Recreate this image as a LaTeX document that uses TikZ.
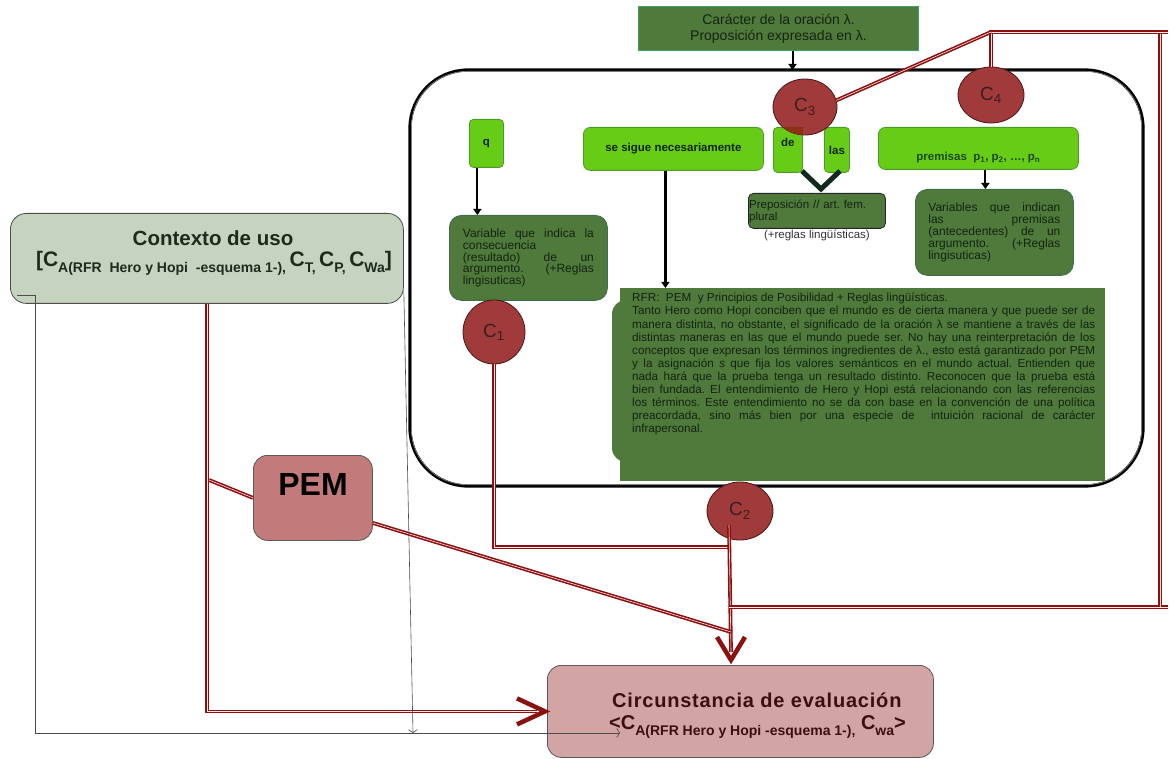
\documentclass[tikz,border=0pt]{standalone}
\usepackage{fontspec}
\setmainfont{Liberation Sans}
\usetikzlibrary{arrows.meta,shapes.geometric,calc}

\definecolor{dkgreen}{HTML}{4F7A3B}
\definecolor{topedge}{HTML}{35A56A}
\definecolor{ltgreen}{HTML}{67CC15}
\definecolor{ltedge}{HTML}{4B9B2A}
\definecolor{dkedge}{HTML}{3F6E50}
\definecolor{txtdark}{HTML}{132410}
\definecolor{premtext}{HTML}{1D4A12}
\definecolor{cred}{HTML}{A13A3A}
\definecolor{credge}{HTML}{4A1515}
\definecolor{ctext}{HTML}{3B1E1E}
\definecolor{linered}{HTML}{8B1111}
\definecolor{sage}{HTML}{C6D3BE}
\definecolor{ctxtext}{HTML}{1C2B1C}
\definecolor{pemfill}{HTML}{C27A7A}
\definecolor{evalfill}{HTML}{D3A4A4}
\definecolor{evaltext}{HTML}{3B0F0F}
\definecolor{chevgreen}{HTML}{0F2A1A}
\definecolor{overlapc}{HTML}{8C3214}

% lowered subscript at a given size
\newcommand{\lowsub}[2]{\raisebox{-0.3em}{\fontsize{#1}{#1}\selectfont #2}}

\begin{document}
\begin{tikzpicture}[x=1pt,y=-1pt,
  topbox/.style={draw=topedge, line width=1pt, fill=dkgreen, inner sep=0pt, align=center,
                 text=txtdark, font=\fontsize{14}{16}\selectfont},
  ltbox/.style={draw=ltedge, line width=0.8pt, fill=ltgreen, rounded corners=4pt, inner sep=0pt,
                text=txtdark, font=\fontsize{11.5}{12}\selectfont\bfseries},
  ltlabel/.style={text=txtdark, font=\fontsize{11.5}{12}\selectfont\bfseries, inner sep=0pt},
  dkbox/.style={draw=dkedge, line width=0.8pt, fill=dkgreen, rounded corners=12pt, inner sep=0pt,
                align=justify, text=txtdark, font=\fontsize{12}{11.8}\selectfont\frenchspacing},
  cnode/.style={ellipse, draw=credge, line width=0.8pt, fill=cred, inner sep=0pt,
                text=ctext, font=\fontsize{19}{19}\selectfont},
  redline/.style={draw=linered, line width=1.6pt, double=red!10, double distance=0.6pt},
  chev/.style={draw=linered, line width=4.5pt, line join=miter},
  vmark/.style={draw=chevgreen, line width=5pt, line join=miter},
  blkarrow/.style={draw=black, line width=2pt, -{Triangle[length=6pt,width=8pt]}},
  thinarrow/.style={draw=black!70, line width=0.6pt, -{Straight Barb[length=3pt,width=9pt]}},
  pinkbox/.style={draw=black!65, line width=0.8pt, rounded corners=14pt, inner sep=0pt}
]
\useasboundingbox (0,0) rectangle (1175,759);

% rounded frame around the sentence analysis
\node[draw=black, line width=3.2pt, rounded corners=58pt, outer sep=0pt, inner sep=0pt,
      minimum width=733pt, minimum height=416pt, anchor=north west] (frame) at (410,70) {};
\draw[black!45, line width=0.6pt, rounded corners=56pt]
  ([shift={(1.3pt,-1.3pt)}]frame.north west) rectangle ([shift={(-1.3pt,1.3pt)}]frame.south east);

% character / proposition box
\node[topbox, minimum width=280pt, minimum height=44pt, anchor=north west] (top) at (638,6)
  {Carácter de la oración λ.\\Proposición expresada en λ.};
\draw[blkarrow] ([xshift=14pt]top.south) -- ([xshift=14pt]top.south |- frame.north);

% sentence parts
\node[ltbox, minimum width=34pt, minimum height=48pt, anchor=north west] (q) at (469,119) {q};
\node[ltbox, rounded corners=7pt, minimum width=180pt, minimum height=43pt, anchor=north west] (sigue) at (583,127)
  {se sigue necesariamente};
\node[ltbox, minimum width=29pt, minimum height=45pt, anchor=north west,
      label={[ltlabel, anchor=north, yshift=-11pt]north:de}] (de) at (773,127) {};
\node[ltbox, minimum width=25pt, minimum height=45pt, anchor=north west] (las) at (824,127) {las};
\node[ltbox, rounded corners=7pt, minimum width=200pt, minimum height=42pt, anchor=north west] (prem) at (878,127) {};
\node[ltlabel, text=premtext] (premlabel) at ([yshift=-9pt]prem.center)
  {premisas\ \ p\textsubscript{1}, p\textsubscript{2}, …, p\textsubscript{n}};

% V mark under "de las"
\draw[vmark] (802,171) -- (821,189) -- (840,171);

% preposition box
\node[draw=black!85, line width=0.8pt, fill=dkgreen, rounded corners=5pt, minimum width=137pt,
      minimum height=35pt, anchor=north west] (prep) at (748,193) {};
\node[anchor=north west, inner sep=0pt, text width=135pt, align=left, text=txtdark,
      font=\fontsize{11.5}{12}\selectfont\frenchspacing] (preptext) at ([shift={(1pt,-7pt)}]prep.north west)
  {Preposición // art. fem.\\plural};
\node[anchor=north, inner sep=1pt, text=black!80, font=\fontsize{11.5}{12}\selectfont] (prepnote) at (prep.south)
  {(+reglas lingüísticas)};

% explanatory boxes
\node[dkbox, minimum width=158pt, minimum height=86pt, text width=132pt, anchor=north west] (varp) at (915,189)
  {\tolerance=9999\hyphenpenalty=10000 Variables que indican\linebreak las premisas\linebreak
   (antecedentes) de un\linebreak argumento. (+Reglas\linebreak lingisuticas)};
\node[dkbox, minimum width=158pt, minimum height=85pt, text width=131pt, anchor=north west] (varq) at (449,215)
  {\tolerance=9999\hyphenpenalty=10000 Variable que indica la\linebreak consecuencia\newline
   (resultado) de un\linebreak argumento. (+Reglas\linebreak lingisuticas)};

\draw[blkarrow] ([xshift=-9pt]q.south) -- ([xshift=-9pt]q.south |- varq.north);
\draw[blkarrow] ([xshift=7pt]prem.south) -- ([xshift=7pt]prem.south |- varp.north);

% RFR explanation
\fill[dkgreen, rounded corners=14pt] (612,300) rectangle (650,462);
\node[fill=dkgreen, inner sep=0pt, minimum width=485pt, minimum height=193pt, anchor=north west] (rfr) at (620,288) {};
\node[anchor=north west, inner sep=0pt, text width=463pt, align=justify, text=txtdark,
      font=\fontsize{11.7}{13.1}\selectfont\frenchspacing] (rfrtext) at (632,293)
  {\tolerance=9999\hyphenpenalty=10000 RFR:\ \ PEM\ \ y Principios de Posibilidad + Reglas lingüísticas.\\
   Tanto Hero como Hopi conciben que el mundo es de cierta manera y que puede ser de\linebreak
   manera distinta, no obstante, el significado de la oración λ se mantiene a través de las\linebreak
   distintas maneras en las que el mundo puede ser. No hay una reinterpretación de los\linebreak
   conceptos que expresan los términos ingredientes de λ., esto está garantizado por PEM\linebreak
   y la asignación \textit{s} que fija los valores semánticos en el mundo actual. Entienden que\linebreak
   nada hará que la prueba tenga un resultado distinto. Reconocen que la prueba está\linebreak
   bien fundada. El entendimiento de Hero y Hopi está relacionando con las referencias\linebreak
   los términos. Este entendimiento no se da con base en la convención de una política\linebreak
   preacordada, sino más bien por una especie de\ \ intuición racional de carácter\linebreak
   infrapersonal.};
\draw[blkarrow, line width=2.5pt] ([xshift=-8pt]sigue.south) -- ([xshift=-8pt]sigue.south |- rfr.north);

% context of use
\node[pinkbox, draw=black!70, fill=sage, rounded corners=16pt, minimum width=393pt, minimum height=90pt,
      anchor=north west] (ctx) at (10,213) {};
\node[text=ctxtext, font=\fontsize{20.5}{20}\selectfont\bfseries] (ctxtitle) at (213,238) {Contexto de uso};
\node[text=ctxtext, font=\fontsize{21}{20}\selectfont\bfseries] (ctxvars) at (214,263)
  {[C\lowsub{14}{A(RFR\ \ Hero y Hopi\ \ -esquema 1-),}\,C\lowsub{14}{T,}\,C\lowsub{14}{P,}\,C\lowsub{14}{Wa}]};

% PEM
\node[pinkbox, fill=pemfill, minimum width=119pt, minimum height=85pt, anchor=north west] (pem) at (253,455) {};
\node[font=\fontsize{32}{32}\selectfont\bfseries] (pemlabel) at (313,484) {PEM};

% circumstance of evaluation
\node[pinkbox, fill=evalfill, minimum width=386pt, minimum height=92pt, anchor=north west] (eval) at (547,665) {};
\node[anchor=base west, inner sep=0pt, text=evaltext,
      font=\fontsize{20}{20}\selectfont\bfseries\addfontfeature{LetterSpace=4}] (evaltitle) at (612,707)
  {Circunstancia de evaluación};
\node[anchor=base west, inner sep=0pt, text=evaltext, font=\fontsize{20}{20}\selectfont\bfseries] (evalvars) at (609,729)
  {<C\lowsub{14}{A(RFR Hero y Hopi -esquema 1-),} C\lowsub{14}{wa}>};

% circumstance markers
\node[cnode, minimum width=64pt, minimum height=56pt] (c3) at (805,107) {C\textsubscript{3}};
\begin{scope}
  \clip (805,107) ellipse [x radius=32pt, y radius=28pt];
  \fill[overlapc] (de.north west) rectangle (de.south east);
\end{scope}
\node[cnode, minimum width=66pt, minimum height=56pt] (c4) at (991,95) {C\textsubscript{4}};
\node[cnode, minimum width=62pt, minimum height=64pt] (c1) at (494,332) {C\textsubscript{1}};
\node[cnode, minimum width=66pt, minimum height=58pt] (c2) at (740,511) {C\textsubscript{2}};

% junction points of the red connectors
\coordinate (c2drop) at (729,525);
\coordinate (c2tip) at (731,660);
\coordinate (m1) at (729,547);
\coordinate (r1) at (729,607);
\coordinate (r2) at (1160,607);
\coordinate (r3) at (1160,32);
\coordinate (r4) at (c4.north |- r3);
\coordinate (p0) at (209,480);

\draw[redline] (ctx.south) |- ([xshift=-10pt]eval.west);
\draw[chev] ([shift={(-30pt,13pt)}]eval.west) -- ([xshift=-2pt]eval.west) -- ([shift={(-30pt,-13pt)}]eval.west);
\draw[redline] (c1.south) |- (m1);
\draw[redline] (c2drop) -- ([yshift=8pt]c2tip);
\draw[chev] ([shift={(-14pt,23pt)}]c2tip) -- (c2tip) -- ([shift={(14pt,23pt)}]c2tip);
\draw[redline] (r1) -- ([xshift=8pt]r2);
\draw[redline] (r2) -- (r3);
\draw[redline] ([xshift=8pt]r3) -- (r4) -- (c4.north);
\draw[redline] (r4) -- (c3.12);
\draw[redline] (p0) -- (pem.west);
\draw[redline] ([yshift=-25pt]pem.east) -- ([yshift=28pt]c2tip);

% thin arrows from the context of use
\coordinate (t0) at ([shift={(7pt,8pt)}]ctx.south west);
\coordinate (t1) at (620,733);
\coordinate (t2) at (413,733);
\draw[thinarrow] (t0) -- ++(18,0) |- (t1);
\draw[thinarrow] ([yshift=-32pt]ctx.east) -- (t2);
\end{tikzpicture}
\end{document}
